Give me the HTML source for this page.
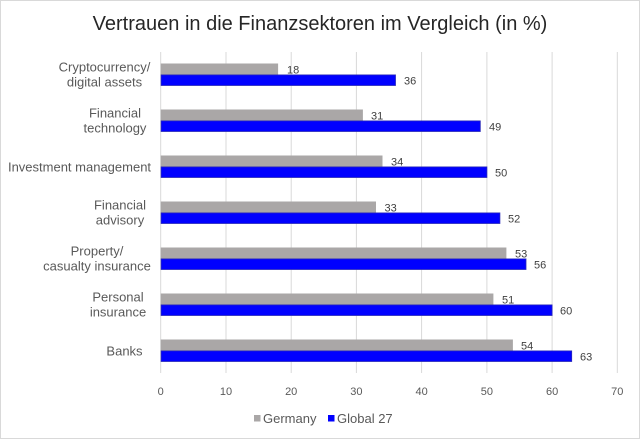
<!DOCTYPE html>
<html><head><meta charset="utf-8"><style>
html,body{margin:0;padding:0;background:#fff;}
svg{display:block;}
</style></head><body>
<svg width="640" height="439" viewBox="0 0 640 439" xmlns="http://www.w3.org/2000/svg" font-family="Liberation Sans, Arial, sans-serif">
<rect x="0.5" y="0.5" width="639" height="438" fill="#fff" stroke="#d9d9d9" stroke-width="1"/>
<text x="320" y="30" text-anchor="middle" font-size="20" fill="#262626">Vertrauen in die Finanzsektoren im Vergleich (in %)</text>
<g stroke="#d9d9d9" stroke-width="1">
<line x1="160.7" y1="52" x2="160.7" y2="373"/>
<line x1="226" y1="52" x2="226" y2="373"/>
<line x1="291.2" y1="52" x2="291.2" y2="373"/>
<line x1="356.4" y1="52" x2="356.4" y2="373"/>
<line x1="421.6" y1="52" x2="421.6" y2="373"/>
<line x1="486.9" y1="52" x2="486.9" y2="373"/>
<line x1="552.1" y1="52" x2="552.1" y2="373"/>
<line x1="617.3" y1="52" x2="617.3" y2="373"/>
</g>
<g font-size="11" fill="#595959" text-anchor="middle">
<text x="160.7" y="395">0</text>
<text x="226" y="395">10</text>
<text x="291.2" y="395">20</text>
<text x="356.4" y="395">30</text>
<text x="421.6" y="395">40</text>
<text x="486.9" y="395">50</text>
<text x="552.1" y="395">60</text>
<text x="617.3" y="395">70</text>
</g>
<g font-size="13" fill="#595959" text-anchor="middle">
<text x="104.5" y="71.5">Cryptocurrency/</text>
<text x="104.5" y="86.5">digital assets</text>
<text x="115" y="117.5">Financial</text>
<text x="115" y="132.5">technology</text>
<text x="79.5" y="171.5">Investment management</text>
<text x="120" y="209.5">Financial</text>
<text x="120" y="224.5">advisory</text>
<text x="97" y="255.5">Property/</text>
<text x="97" y="270.5">casualty insurance</text>
<text x="118" y="301.5">Personal</text>
<text x="118" y="316.5">insurance</text>
<text x="124.5" y="355.5">Banks</text>
</g>
<g fill="#aaa7a7">
<rect x="160.7" y="63.5" width="117.4" height="11"/>
<rect x="160.7" y="109.5" width="202.2" height="11"/>
<rect x="160.7" y="155.5" width="221.8" height="11"/>
<rect x="160.7" y="201.5" width="215.3" height="11"/>
<rect x="160.7" y="247.5" width="345.7" height="11"/>
<rect x="160.7" y="293.5" width="332.7" height="11"/>
<rect x="160.7" y="339.5" width="352.2" height="11"/>
</g>
<g fill="#0000ff" stroke="#2a2ab8" stroke-width="0.8">
<rect x="161.1" y="74.9" width="234.4" height="10.6"/>
<rect x="161.1" y="120.9" width="319.2" height="10.6"/>
<rect x="161.1" y="166.9" width="325.8" height="10.6"/>
<rect x="161.1" y="212.9" width="338.8" height="10.6"/>
<rect x="161.1" y="258.9" width="364.9" height="10.6"/>
<rect x="161.1" y="304.9" width="391" height="10.6"/>
<rect x="161.1" y="350.9" width="410.6" height="10.6"/>
</g>
<g font-size="11" fill="#404040">
<text x="287" y="73.5">18</text>
<text x="404" y="84.5">36</text>
<text x="371" y="119.5">31</text>
<text x="489" y="130.5">49</text>
<text x="391" y="165.5">34</text>
<text x="495" y="176.5">50</text>
<text x="384.5" y="211.5">33</text>
<text x="508" y="222.5">52</text>
<text x="515" y="257.5">53</text>
<text x="534" y="268.5">56</text>
<text x="502" y="303.5">51</text>
<text x="560" y="314.5">60</text>
<text x="521" y="349.5">54</text>
<text x="580" y="360.5">63</text>
</g>
<rect x="254" y="415" width="6.5" height="6.5" fill="#aaa7a7"/>
<text x="263" y="423" font-size="13" fill="#595959">Germany</text>
<rect x="328" y="415" width="6.5" height="6.5" fill="#0000ff"/>
<text x="337" y="423" font-size="13" fill="#595959">Global 27</text>
</svg>
</body></html>
